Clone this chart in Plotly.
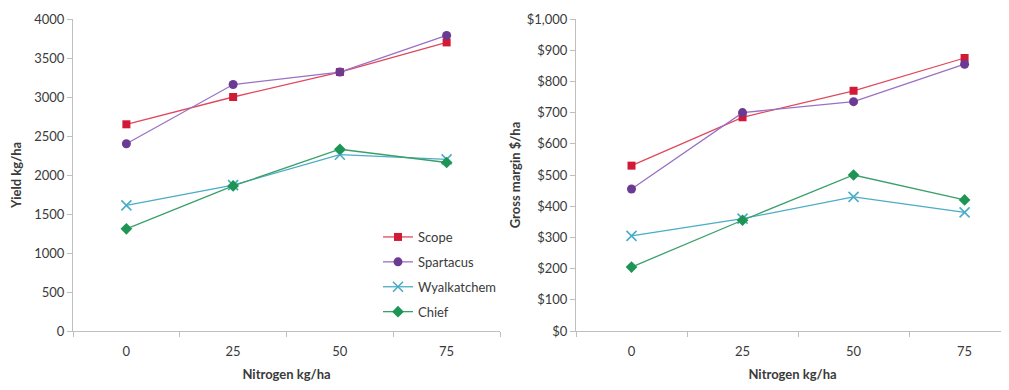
import plotly.graph_objects as go

nitrogen = ["0", "25", "50", "75"]
varieties = ["Scope", "Spartacus", "Wyalkatchem", "Chief"]

yield_scope = [2650, 3000, 3320, 3700]
yield_spartacus = [2400, 3160, 3320, 3790]
yield_wyalkatchem = [1610, 1870, 2260, 2200]
yield_chief = [1310, 1860, 2330, 2160]

gm_scope = [530, 685, 770, 875]
gm_spartacus = [455, 700, 735, 855]
gm_wyalkatchem = [305, 360, 430, 380]
gm_chief = [205, 355, 500, 420]

yield_ticks = [0, 500, 1000, 1500, 2000, 2500, 3000, 3500, 4000]
gm_ticks = [0, 100, 200, 300, 400, 500, 600, 700, 800, 900, 1000]
gm_ticktext = ["$" + format(v, ",") for v in gm_ticks]

line_colors = ["#E0485C", "#9A70C4", "#4BACC6", "#3AA06A"]
marker_colors = ["#D01A36", "#6B3A92", "#4BACC6", "#1E9455"]
symbols = ["square", "circle", "x-thin-open", "diamond"]
sizes = [8, 9, 10, 9]

yield_data = [yield_scope, yield_spartacus, yield_wyalkatchem, yield_chief]
gm_data = [gm_scope, gm_spartacus, gm_wyalkatchem, gm_chief]

fig = go.Figure()
for i, name in enumerate(varieties):
    mk = dict(symbol=symbols[i], size=sizes[i], color=marker_colors[i])
    if symbols[i] == "x-thin-open":
        mk["line"] = dict(width=1.6, color=marker_colors[i])
    fig.add_trace(go.Scatter(x=nitrogen, y=yield_data[i], name=name, mode="lines+markers",
                             line=dict(color=line_colors[i], width=1.3), marker=mk,
                             xaxis="x", yaxis="y", legendgroup=name))
for i, name in enumerate(varieties):
    mk = dict(symbol=symbols[i], size=sizes[i], color=marker_colors[i])
    if symbols[i] == "x-thin-open":
        mk["line"] = dict(width=1.6, color=marker_colors[i])
    fig.add_trace(go.Scatter(x=nitrogen, y=gm_data[i], name=name, mode="lines+markers",
                             line=dict(color=line_colors[i], width=1.3), marker=mk,
                             xaxis="x2", yaxis="y2", legendgroup=name, showlegend=False))

# page body has an 8px default margin; size the figure to fit the window
W, H = 1001, 382
FAM = "Lato"
TXT = "#3a3a3a"
tfont = dict(family=FAM, size=13, color=TXT)
axis_common = dict(showgrid=False, zeroline=False, showline=True, linecolor="#BFBFBF",
                   linewidth=1, ticks="outside", tickcolor="#BFBFBF", ticklen=5,
                   tickfont=tfont)

fig.update_layout(
    width=W, height=H,
    margin=dict(l=0, r=0, t=11, b=59),
    paper_bgcolor="white", plot_bgcolor="white",
    font=tfont,
    xaxis=dict(domain=[65 / W, 492 / W], type="category", range=[-0.5, 3.5],
               tickson="boundaries", anchor="y", ticklabelstandoff=8,
               title=dict(text="<b>Nitrogen kg/ha</b>", standoff=12, font=tfont),
               **axis_common),
    yaxis=dict(range=[0, 4000], tickvals=yield_ticks, anchor="x",
               title=dict(text="<b>Yield kg/ha</b>", standoff=17, font=tfont),
               **axis_common),
    xaxis2=dict(domain=[568 / W, 1.0], type="category", range=[-0.5, 3.4],
                tickson="boundaries", anchor="y2", ticklabelstandoff=8,
                title=dict(text="<b>Nitrogen kg/ha</b>", standoff=12, font=tfont),
                **axis_common),
    yaxis2=dict(range=[0, 1000], tickvals=gm_ticks, ticktext=gm_ticktext,
                anchor="x2",
                title=dict(text="<b>Gross margin $/ha</b>", standoff=3, font=tfont),
                **axis_common),
    legend=dict(x=370 / W, y=109 / 312, xanchor="left", yanchor="top",
                bgcolor="rgba(0,0,0,0)", font=tfont,
                tracegroupgap=5, traceorder="grouped"),
    showlegend=True,
)

fig.write_html("out.html")
